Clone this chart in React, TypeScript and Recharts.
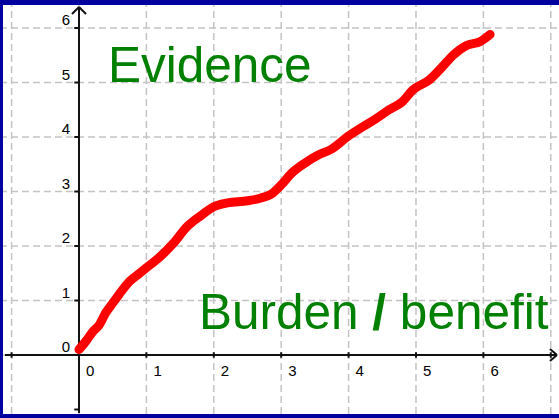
import { LineChart, Line, XAxis, YAxis, CartesianGrid, ReferenceLine, ReferenceDot } from "recharts"

// red curve
const curveX = [0, 0.1, 0.2, 0.3, 0.4, 0.5, 0.6, 0.75, 0.9, 1.0, 1.2, 1.4, 1.6, 1.8, 2.0, 2.2, 2.5, 2.7, 2.85, 3.0, 3.15, 3.35, 3.55, 3.75, 4.0, 4.2, 4.4, 4.6, 4.8, 4.95, 5.2, 5.4, 5.55, 5.75, 5.95, 6.1]
const curveY = [0.1, 0.25, 0.42, 0.55, 0.78, 0.95, 1.12, 1.35, 1.5, 1.6, 1.8, 2.05, 2.35, 2.55, 2.72, 2.79, 2.83, 2.88, 2.95, 3.12, 3.33, 3.52, 3.67, 3.78, 4.02, 4.18, 4.33, 4.5, 4.65, 4.86, 5.05, 5.3, 5.5, 5.68, 5.75, 5.88]

const gridX = [-1, 0, 1, 2, 3, 4, 5, 6, 7]
const gridY = [-1, 0, 1, 2, 3, 4, 5, 6]
const xTickLabels = [0, 1, 2, 3, 4, 5, 6]
const yTickLabels = [0, 1, 2, 3, 4, 5, 6]

const xDomain: [number, number] = [-1.172, 7.122]
const yDomain: [number, number] = [-1.156, 6.514]

const data = curveX.map((x, i) => ({ x, y: curveY[i] }))

const green = "#008000"
const font = "'Liberation Sans', Arial, sans-serif"

const xLabel = (text: string) => (props: any) => {
  const vb = props.viewBox
  return (
    <text x={vb.x + 7} y={vb.y + 21} fontSize={15} fontFamily={font} fill="#000">
      {text}
    </text>
  )
}

const yLabel = (text: string) => (props: any) => {
  const vb = props.viewBox
  return (
    <text x={vb.x - 9} y={vb.y - 3} fontSize={15} fontFamily={font} fill="#000" textAnchor="end">
      {text}
    </text>
  )
}

const evidenceLabel = (props: any) => {
  const vb = props.viewBox
  return (
    <text x={vb.x} y={vb.y} fontSize={49.5} fontFamily={font} fill={green}>
      Evidence
    </text>
  )
}

const burdenLabel = (props: any) => {
  const vb = props.viewBox
  return (
    <text x={vb.x} y={vb.y} fontSize={49.5} fontFamily={font} fill={green}>
      Burden <tspan fontWeight="bold">/</tspan> benefit
    </text>
  )
}

export default function App() {
  return (
    <div style={{ position: "relative", width: 559, height: 418, background: "#fff" }}>
      <style>{"body{margin:0}"}</style>
      <LineChart width={559} height={418} data={data} margin={{ top: 0, right: 0, bottom: 0, left: 0 }}>
        <XAxis hide type="number" dataKey="x" domain={xDomain} ticks={gridX} allowDataOverflow />
        <YAxis hide type="number" domain={yDomain} ticks={gridY} allowDataOverflow />
        <CartesianGrid stroke="#c4c4c4" strokeWidth={1.5} strokeDasharray="7 4" verticalValues={gridX} horizontalValues={gridY} />

        {/* axes */}
        <ReferenceLine segment={[{ x: -1.098, y: 0 }, { x: 7.092, y: 0 }]} stroke="#111" strokeWidth={2} />
        <ReferenceLine segment={[{ x: 0, y: -1.064 }, { x: 0, y: 6.385 }]} stroke="#111" strokeWidth={2} />
        <ReferenceLine segment={[{ x: 6.988, y: 0.11 }, { x: 7.092, y: 0 }]} stroke="#111" strokeWidth={2} />
        <ReferenceLine segment={[{ x: 6.988, y: -0.11 }, { x: 7.092, y: 0 }]} stroke="#111" strokeWidth={2} />
        <ReferenceLine segment={[{ x: -0.104, y: 6.257 }, { x: 0, y: 6.385 }]} stroke="#111" strokeWidth={2} />
        <ReferenceLine segment={[{ x: 0.104, y: 6.257 }, { x: 0, y: 6.385 }]} stroke="#111" strokeWidth={2} />
        {gridX.filter((v) => v !== 0).map((v) => (
          <ReferenceLine key={"tx" + v} segment={[{ x: v, y: -0.05 }, { x: v, y: 0.05 }]} stroke="#111" strokeWidth={2} />
        ))}
        {gridY.filter((v) => v !== 0).map((v) => (
          <ReferenceLine key={"ty" + v} segment={[{ x: -0.07, y: v }, { x: 0, y: v }]} stroke="#111" strokeWidth={2} />
        ))}

        <Line
          type="monotone"
          dataKey="y"
          stroke="#ff0000"
          strokeWidth={9}
          strokeLinecap="round"
          strokeLinejoin="round"
          dot={false}
          activeDot={false}
          isAnimationActive={false}
        />

        {xTickLabels.map((v) => (
          <ReferenceDot key={"lx" + v} x={v} y={0} r={0} fill="none" stroke="none" label={xLabel(String(v))} />
        ))}
        {yTickLabels.map((v) => (
          <ReferenceDot key={"ly" + v} x={0} y={v} r={0} fill="none" stroke="none" label={yLabel(String(v))} />
        ))}
        <ReferenceDot x={0.43} y={5.01} r={0} fill="none" stroke="none" label={evidenceLabel} />
        <ReferenceDot x={1.78} y={0.477} r={0} fill="none" stroke="none" label={burdenLabel} />
      </LineChart>
      <div
        style={{
          position: "absolute",
          inset: 0,
          boxSizing: "border-box",
          borderTop: "5px solid #0000a0",
          borderBottom: "4px solid #0000a0",
          borderLeft: "3px solid #0000a0",
          pointerEvents: "none",
        }}
      />
    </div>
  )
}
